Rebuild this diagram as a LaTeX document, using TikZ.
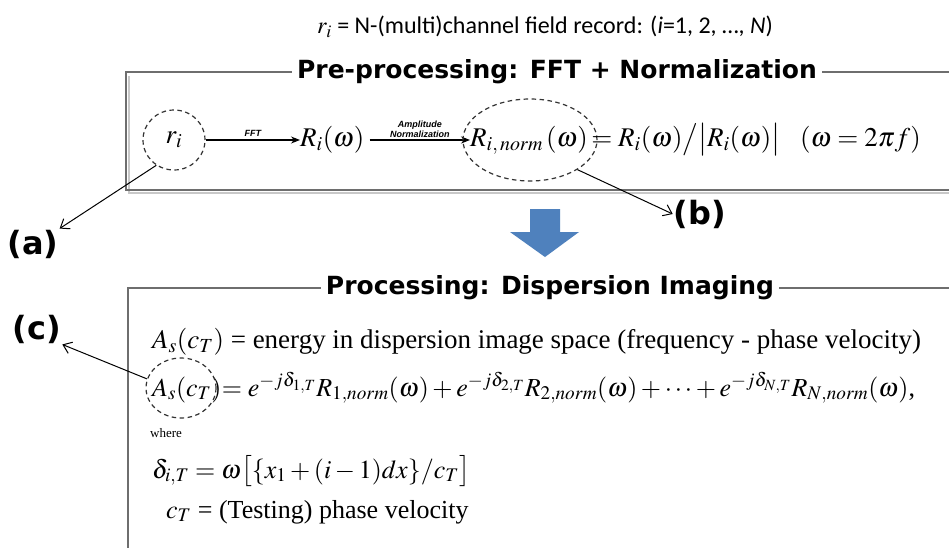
\documentclass[tikz,border=0pt]{standalone}
\usepackage{mathptmx}
\usepackage[no-math]{fontspec}
\setmainfont{Liberation Serif}
\newfontfamily\calib{Carlito}
\newfontfamily\hsans{Liberation Sans}
\newfontfamily\heavy{DejaVu Sans}
\usetikzlibrary{arrows.meta,shapes.geometric}
\definecolor{boxgray}{RGB}{110,110,110}
\definecolor{shadowgray}{RGB}{200,200,200}
\definecolor{arrowblue}{RGB}{79,129,189}
\tikzset{
  boxline/.style={draw=boxgray, line width=1.6pt},
  boxshadow/.style={draw=shadowgray, line width=2pt},
  titletext/.style={font=\heavy\bfseries\fontsize{25}{28}\selectfont, fill=white, inner xsep=5pt, inner ysep=1pt},
  toptext/.style={font=\calib\fontsize{24}{26}\selectfont},
  eqtop/.style={font=\fontsize{27}{30}\selectfont, inner sep=0pt},
  eqlow/.style={font=\fontsize{26}{29}\selectfont, inner sep=0pt},
  eqlowb/.style={font=\fontsize{27}{30}\selectfont, inner sep=0pt},
  labtext/.style={font=\heavy\bfseries\fontsize{32}{34}\selectfont, inner sep=1pt},
  smallsans/.style={font=\hsans\bfseries\itshape\fontsize{9}{10}\selectfont, inner sep=1pt},
  dashell/.style={ellipse, draw=black!80, dashed, dash pattern=on 4.5pt off 3.5pt, line width=1.2pt, inner sep=0pt},
  procarrow/.style={draw, line width=1.1pt, -{Stealth[length=9pt,width=7pt]}},
  labarrow/.style={draw, line width=1pt, -{Straight Barb[length=8pt,width=12pt]}},
}
\begin{document}
\begin{tikzpicture}[x=1pt,y=-1pt]
\useasboundingbox (0,0) rectangle (949,547);
\fill[white] (0,0) rectangle (949,547);

% heading
\node[toptext] (head) at (545,27) {$r_i$ = N-(multi)channel field record: (\textit{i}=1, 2, \ldots, \textit{N})};

% upper box
\draw[boxshadow] (129,76) -- (129,193) -- (960,193);
\draw[boxline] (960,72) -- (126,72) -- (126,190) -- (960,190);
\node[titletext] (t1) at (557,72) {Pre-processing: FFT + Normalization};

\node[eqtop] (ri) at (174,140) {$r_i$};
\node[dashell, minimum width=62pt, minimum height=60pt] (ric) at (174,140) {};
\node[eqtop, anchor=west] (Ri) at (300,140) {$R_i(\omega)$};
\draw[procarrow] (ric.east) -- (Ri.west) node[midway, above=2pt, smallsans] {FFT};
\node[eqtop, anchor=west] (Rn) at (470,140) {$R_{i,\,norm}\,(\omega)$};
\path (Ri.east) ++(5pt,0) coordinate (Rs);
\draw[procarrow] (Rs) -- (Rn.west) node[midway, above=1pt, smallsans, align=center] {Amplitude\\Normalization};
\node[dashell, minimum width=134pt, minimum height=82pt] (rnc) at (530,140) {};
\node[eqtop, anchor=base west] (eq1) at ([xshift=3pt]Rn.base east) {$=R_i(\omega)\big/\big|R_i(\omega)\big|$};
\node[eqtop, anchor=west] (om) at (800,140) {$(\omega = 2\pi f)$};

% labels a, b
\node[labtext] (a) at (33,244) {(a)};
\draw[labarrow] (ric.235) -- (a.north east);
\node[labtext] (b) at (700,214) {(b)};
\draw[labarrow] (rnc.-32) -- (b.west);

% blue arrow
\fill[arrowblue] (530,209) -- (560,209) -- (560,232) -- (579,232) -- (545,257) -- (510,232) -- (530,232) -- cycle;

% lower box
\draw[boxline] (960,288) -- (128,288) -- (128,560);
\node[titletext] (t2) at (550,288) {Processing: Dispersion Imaging};

\node[labtext] (c) at (37,329) {(c)};

\node[eqlowb, anchor=base west] (l1) at (152,348) {$A_s(c_T)$ = energy in dispersion image space (frequency - phase velocity)};
\node[eqlow, anchor=base west] (l2a) at (152,396) {$A_s(c_T)$};
\node[eqlow, anchor=base west] (l2b) at (l2a.base east) {$= e^{-j\delta_{1,T}}R_{1,norm}(\omega) + e^{-j\delta_{2,T}}R_{2,norm}(\omega) + \cdots + e^{-j\delta_{N,T}}R_{N,norm}(\omega)$,};
\node[dashell, minimum width=70pt, minimum height=60pt] (asc) at (181,388) {};
\draw[labarrow] (asc.165) -- (c.south east);

\node[font=\fontsize{13}{15}\selectfont, anchor=base west, inner sep=0pt] (wh) at (150,437) {where};
\node[eqlow, anchor=base west] (dl) at (152,478) {$\delta_{i,T} = \omega\bigl[\{x_1+(i-1)dx\}/c_T\bigr]$};
\node[eqlow, anchor=base west] (cl) at (166,518) {$c_T$ = (Testing) phase velocity};
\end{tikzpicture}
\end{document}
